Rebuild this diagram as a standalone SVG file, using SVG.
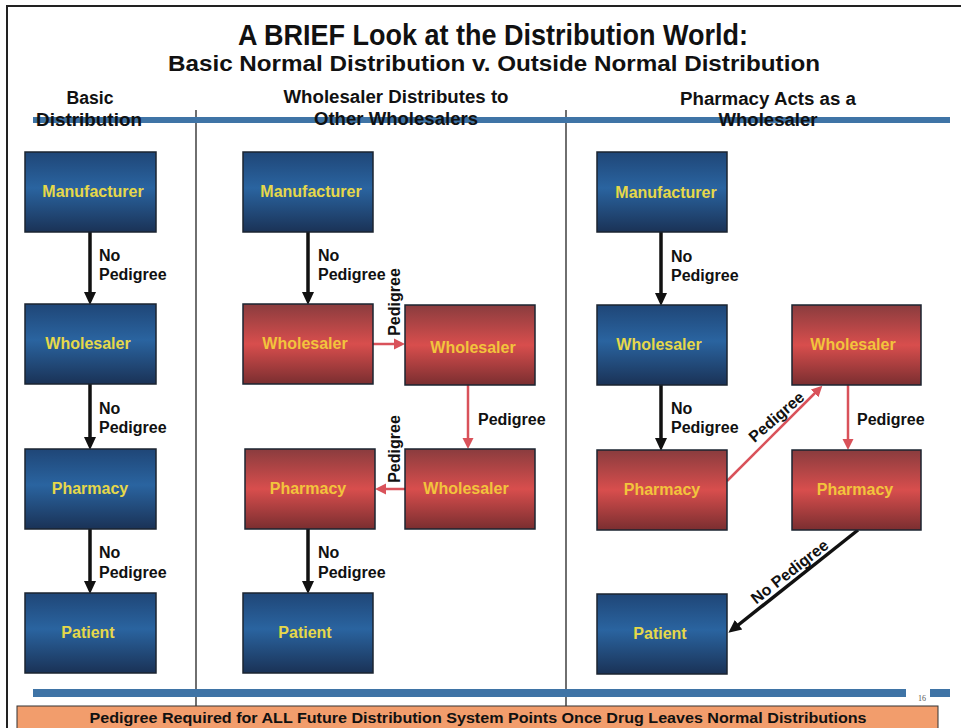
<svg xmlns="http://www.w3.org/2000/svg" width="961" height="728" viewBox="0 0 961 728">
<defs>
<linearGradient id="gBlue" x1="0" y1="0" x2="0" y2="1">
<stop offset="0" stop-color="#1f4677"/><stop offset="0.45" stop-color="#2a64a0"/><stop offset="1" stop-color="#1a3256"/>
</linearGradient>
<linearGradient id="gRed" x1="0" y1="0" x2="0" y2="1">
<stop offset="0" stop-color="#8a3c3e"/><stop offset="0.5" stop-color="#d84e4d"/><stop offset="1" stop-color="#7a2e30"/>
</linearGradient>
<marker id="mBlack" markerUnits="userSpaceOnUse" markerWidth="14" markerHeight="14" refX="2" refY="7" orient="auto">
<path d="M0,1 L13,7 L0,13 z" fill="#111"/>
</marker>
<marker id="mRed" markerUnits="userSpaceOnUse" markerWidth="12" markerHeight="12" refX="2" refY="6" orient="auto">
<path d="M0,0.5 L11,6 L0,11.5 z" fill="#d9525a"/>
</marker>
</defs>
<style>
.box{stroke:#1b2430;stroke-width:1.5}
.blue{fill:url(#gBlue)}
.red{fill:url(#gRed)}
.nl{font-family:"Liberation Sans",Arial,sans-serif;font-weight:bold;font-size:16px;text-anchor:middle}
.nlb{fill:#e6d84a}
.nlr{fill:#f2c43c}
.al{font-family:"Liberation Sans",Arial,sans-serif;font-weight:bold;font-size:16px;fill:#111}
.hd{font-family:"Liberation Sans Narrow","Liberation Sans",Arial,sans-serif;font-weight:bold;fill:#111;text-anchor:middle}
.blk{stroke:#111;stroke-width:3.5;fill:none;marker-end:url(#mBlack)}
.rd{stroke:#d9525a;stroke-width:2.5;fill:none;marker-end:url(#mRed)}
</style>
<rect width="961" height="728" fill="#ffffff"/>
<path d="M7,728 V6 H961" fill="none" stroke="#222" stroke-width="2"/>
<g id="title">
<text class="hd" x="493" y="45" font-size="29" textLength="510" lengthAdjust="spacingAndGlyphs">A BRIEF Look at the Distribution World:</text>
<text class="hd" x="494" y="71" font-size="22" textLength="652" lengthAdjust="spacingAndGlyphs">Basic Normal Distribution v. Outside Normal Distribution</text>
</g>
<g id="bands">
<line x1="196" y1="110" x2="196" y2="706" stroke="#222" stroke-width="1.3"/>
<line x1="566" y1="110" x2="566" y2="706" stroke="#222" stroke-width="1.3"/>
<rect x="33" y="117" width="917" height="6" fill="#3f74a6"/>
<rect x="33" y="689" width="873" height="8" fill="#3f74a6"/>
<rect x="930" y="689" width="20" height="8" fill="#3f74a6"/>
<text x="918" y="701" font-family="Liberation Serif,serif" font-size="8" fill="#555">16</text>
</g>
<g id="headers">
<text class="hd" x="90" y="104" font-size="18" textLength="47" lengthAdjust="spacingAndGlyphs">Basic</text>
<text class="hd" x="89" y="126" font-size="18" textLength="106" lengthAdjust="spacingAndGlyphs">Distribution</text>
<text class="hd" x="396" y="103" font-size="18" textLength="225" lengthAdjust="spacingAndGlyphs">Wholesaler Distributes to</text>
<text class="hd" x="396" y="125" font-size="18" textLength="164" lengthAdjust="spacingAndGlyphs">Other Wholesalers</text>
<text class="hd" x="768" y="105" font-size="18" textLength="176" lengthAdjust="spacingAndGlyphs">Pharmacy Acts as a</text>
<text class="hd" x="768" y="126" font-size="18" textLength="99" lengthAdjust="spacingAndGlyphs">Wholesaler</text>
</g>
<g id="connectors">
<line class="blk" x1="90" y1="232" x2="90" y2="294"/>
<line class="blk" x1="90" y1="384" x2="90" y2="439"/>
<line class="blk" x1="90" y1="529" x2="90" y2="583"/>
<line class="blk" x1="308" y1="232" x2="308" y2="294"/>
<line class="rd" x1="373" y1="344" x2="396" y2="344"/>
<line class="rd" x1="468" y1="385" x2="468" y2="440"/>
<line class="rd" x1="405" y1="489" x2="384" y2="489"/>
<line class="blk" x1="308" y1="529" x2="308" y2="583"/>
<line class="blk" x1="661" y1="232" x2="661" y2="295"/>
<line class="blk" x1="661" y1="385" x2="661" y2="440"/>
<line class="rd" x1="727" y1="481" x2="816" y2="392"/>
<line class="rd" x1="848" y1="385" x2="848" y2="441"/>
<line class="blk" x1="858" y1="530" x2="737" y2="626"/>
<g id="connector-labels">
<text class="al" x="99" y="261">No</text><text class="al" x="99" y="280">Pedigree</text>
<text class="al" x="99" y="414">No</text><text class="al" x="99" y="433">Pedigree</text>
<text class="al" x="99" y="558">No</text><text class="al" x="99" y="578">Pedigree</text>
<text class="al" x="318" y="261">No</text><text class="al" x="318" y="280">Pedigree</text>
<text class="al" text-anchor="middle" transform="translate(400,302) rotate(-90)">Pedigree</text>
<text class="al" x="478" y="425">Pedigree</text>
<text class="al" text-anchor="middle" transform="translate(400,449) rotate(-90)">Pedigree</text>
<text class="al" x="318" y="558">No</text><text class="al" x="318" y="578">Pedigree</text>
<text class="al" x="671" y="262">No</text><text class="al" x="671" y="281">Pedigree</text>
<text class="al" x="671" y="414">No</text><text class="al" x="671" y="433">Pedigree</text>
<text class="al" text-anchor="middle" transform="translate(780,421) rotate(-41)">Pedigree</text>
<text class="al" x="857" y="425">Pedigree</text>
<text class="al" text-anchor="middle" transform="translate(793,576) rotate(-38)">No Pedigree</text>
</g>
</g>
<g id="mfr1"><rect class="box blue" x="25" y="152" width="131" height="80"/><text class="nl nlb" x="93" y="197">Manufacturer</text></g>
<g id="whl1"><rect class="box blue" x="25" y="304" width="131" height="80"/><text class="nl nlb" x="88" y="349">Wholesaler</text></g>
<g id="ph1"><rect class="box blue" x="25" y="449" width="131" height="80"/><text class="nl nlb" x="90" y="494">Pharmacy</text></g>
<g id="pt1"><rect class="box blue" x="25" y="593" width="131" height="80"/><text class="nl nlb" x="88" y="638">Patient</text></g>
<g id="mfr2"><rect class="box blue" x="243" y="152" width="130" height="80"/><text class="nl nlb" x="311" y="197">Manufacturer</text></g>
<g id="whl2a"><rect class="box red" x="243" y="304" width="130" height="80"/><text class="nl nlr" x="305" y="349">Wholesaler</text></g>
<g id="whl2b"><rect class="box red" x="405" y="305" width="130" height="80"/><text class="nl nlr" x="473" y="353">Wholesaler</text></g>
<g id="ph2"><rect class="box red" x="245" y="449" width="130" height="80"/><text class="nl nlr" x="308" y="494">Pharmacy</text></g>
<g id="whl2c"><rect class="box red" x="405" y="449" width="130" height="80"/><text class="nl nlr" x="466" y="494">Wholesaler</text></g>
<g id="pt2"><rect class="box blue" x="243" y="593" width="130" height="80"/><text class="nl nlb" x="305" y="638">Patient</text></g>
<g id="mfr3"><rect class="box blue" x="597" y="152" width="130" height="80"/><text class="nl nlb" x="666" y="198">Manufacturer</text></g>
<g id="whl3a"><rect class="box blue" x="597" y="305" width="130" height="80"/><text class="nl nlb" x="659" y="350">Wholesaler</text></g>
<g id="whl3b"><rect class="box red" x="792" y="305" width="129" height="80"/><text class="nl nlr" x="853" y="350">Wholesaler</text></g>
<g id="ph3a"><rect class="box red" x="597" y="450" width="130" height="80"/><text class="nl nlr" x="662" y="495">Pharmacy</text></g>
<g id="ph3b"><rect class="box red" x="792" y="450" width="129" height="80"/><text class="nl nlr" x="855" y="495">Pharmacy</text></g>
<g id="pt3"><rect class="box blue" x="597" y="594" width="130" height="80"/><text class="nl nlb" x="660" y="639">Patient</text></g>
<g id="footer">
<rect x="17" y="706" width="921" height="30" fill="#f29d6c" stroke="#333" stroke-width="1"/>
<text class="hd" x="478" y="723" font-size="15" textLength="777" lengthAdjust="spacingAndGlyphs">Pedigree Required for ALL Future Distribution System Points Once Drug Leaves Normal Distributions</text>
</g>
</svg>
